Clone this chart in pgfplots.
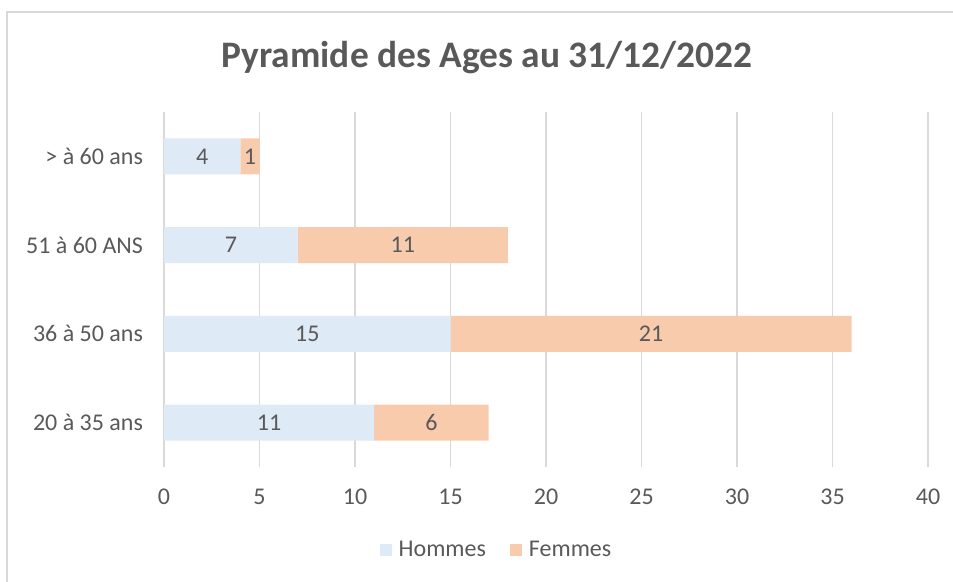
\documentclass[border=0pt]{standalone}
\usepackage{pgfplots}
\pgfplotsset{compat=1.18}
\usepackage{fontspec}
\setmainfont{Carlito}
\definecolor{hom}{HTML}{DEEAF6}
\definecolor{fem}{HTML}{F8CBAD}
\definecolor{txt}{HTML}{595959}
\definecolor{grd}{HTML}{D9D9D9}
\begin{document}
\begin{tikzpicture}
\path[use as bounding box] (0,0) rectangle (476.5pt,291pt);
\draw[grd, line width=1pt] (3.5pt,0) -- (3.5pt,284.75pt) -- (476.5pt,284.75pt);
\node[anchor=base, text=txt, font=\fontsize{18.7}{22}\selectfont\bfseries] at (243.5pt,257pt) {Pyramide des Ages au 31/12/2022};
\begin{axis}[
  at={(82pt,57.5pt)}, anchor=south west,
  scale only axis, width=382pt, height=177.5pt,
  xbar stacked, bar width=0.405,
  xmin=0, xmax=40, ymin=-0.5, ymax=3.5,
  xtick={0,5,...,40}, ytick={0,1,2,3},
  yticklabels={20 à 35 ans, 36 à 50 ans, 51 à 60 ANS, {> à 60 ans}},
  xmajorgrids, major grid style={grd, line width=0.75pt},
  axis line style={draw=none}, tick style={draw=none},
  ticklabel style={font=\fontsize{12}{14}\selectfont, text=txt},
  /pgf/number format/assume math mode=true,
  xticklabel style={anchor=center, yshift=-15pt},
  yticklabel style={anchor=east, xshift=-7pt},
  nodes near coords,
  every node near coord/.append style={anchor=center, text=txt, font=\fontsize{12}{14}\selectfont},
  legend columns=2,
  legend style={at={(0.4365,-0.2338)}, anchor=center, draw=none, fill=none,
    font=\fontsize{12}{14}\selectfont, text=txt,
    /tikz/every even column/.append style={column sep=10pt}},
  legend image code/.code={\fill[#1] (0pt,-3pt) rectangle (6pt,3pt); \path (7.5pt,0pt);},
]
\addplot[fill=hom, draw=none] coordinates {(11,0) (15,1) (7,2) (4,3)};
\addlegendentry{Hommes}
\addplot[fill=fem, draw=none] coordinates {(6,0) (21,1) (11,2) (1,3)};
\addlegendentry{Femmes}
\end{axis}
\end{tikzpicture}
\end{document}
